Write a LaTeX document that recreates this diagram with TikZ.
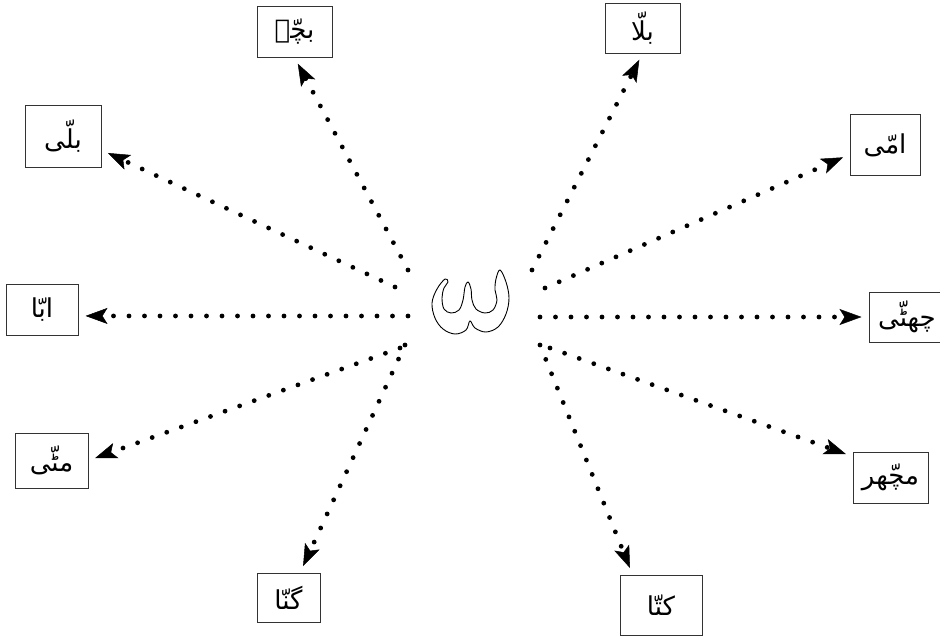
\documentclass[tikz,border=0pt]{standalone}
\usepackage{fontspec}
\usetikzlibrary{arrows.meta}
\newfontfamily\urdu[Script=Arabic]{DejaVu Sans}
\TeXXeTstate=1
\begin{document}
\begin{tikzpicture}[x=1pt,y=-1pt,
  wordbox/.style={draw=black!80,line width=1pt,inner sep=0pt,font=\urdu\fontsize{26}{30}\selectfont},
  dots/.style={line width=4.8pt,line cap=round,dash pattern=on 0pt off 15.5pt,
    -{Stealth[length=22pt,width=16pt,inset=5pt,line width=0.5pt]},shorten >=7pt}]
\useasboundingbox (0,0) rectangle (940,637);
% central outlined shadda
\draw[line width=0.9pt,fill=white] plot[smooth cycle,tension=0.6] coordinates{
 (445,279) (437,289) (432,303) (435,318) (443,329) (455,334) (466,330) (470,321)
 (475,328) (486,332) (498,327) (506,314) (509,298) (506,282) (500,270)
 (496,279) (495,290) (497,300) (493,310) (485,313) (476,309) (472,300) (471,289) (468,282)
 (465,287) (463,300) (459,310) (451,313) (444,309) (442,298) (444,288) (448,282)};
\node[minimum width=80pt,minimum height=66pt,inner sep=0pt] (center) at (470,302) {};
% word boxes
\node[wordbox,minimum width=75pt,minimum height=51pt] (bachcha) at (294.5,31.5) {\beginR بچّہ\endR};
\node[wordbox,minimum width=75pt,minimum height=50pt] (billa) at (642.5,28) {\beginR بلّا\endR};
\node[wordbox,minimum width=76pt,minimum height=62pt] (billi) at (63,136) {\beginR بلّی\endR};
\node[wordbox,minimum width=70pt,minimum height=61pt] (ammi) at (885,145) {\beginR امّی\endR};
\node[wordbox,minimum width=72pt,minimum height=51pt] (abba) at (42,309.5) {\beginR ابّا\endR};
\node[wordbox,minimum width=76pt,minimum height=50pt] (chutti) at (907,317) {\beginR چھٹّی\endR};
\node[wordbox,minimum width=73pt,minimum height=55pt] (mitti) at (51.5,460.5) {\beginR مٹّی\endR};
\node[wordbox,minimum width=75pt,minimum height=51pt] (machhar) at (890.5,477.5) {\beginR مچّھر\endR};
\node[wordbox,minimum width=63pt,minimum height=49pt] (ganna) at (288.5,597.5) {\beginR گنّا\endR};
\node[wordbox,minimum width=82pt,minimum height=60pt] (kutta) at (661,605) {\beginR کتّا\endR};
% start points of connectors
\coordinate (s1) at (408,270);
\coordinate (s2) at (395,287);
\coordinate (s3) at (408,316);
\coordinate (s4) at (400,348);
\coordinate (s5) at (405,345);
\coordinate (s6) at (532,270);
\coordinate (s7) at (545,288);
\coordinate (s8) at (540,317);
\coordinate (s9) at (550,348);
\coordinate (s10) at (540,345);
% connectors
\draw[dots] (s1) -- (bachcha.south);
\draw[dots] (s2) -- (billi.-20);
\draw[dots] (s3) -- (abba.-10);
\draw[dots] (s4) -- (mitti.east);
\draw[dots] (s5) -- (ganna.65);
\draw[dots] (s6) -- (billa.south);
\draw[dots] (s7) -- (ammi.195);
\draw[dots] (s8) -- (chutti.west);
\draw[dots] (s9) -- (machhar.151);
\draw[dots] (s10) -- (kutta.133);
\end{tikzpicture}
\end{document}
